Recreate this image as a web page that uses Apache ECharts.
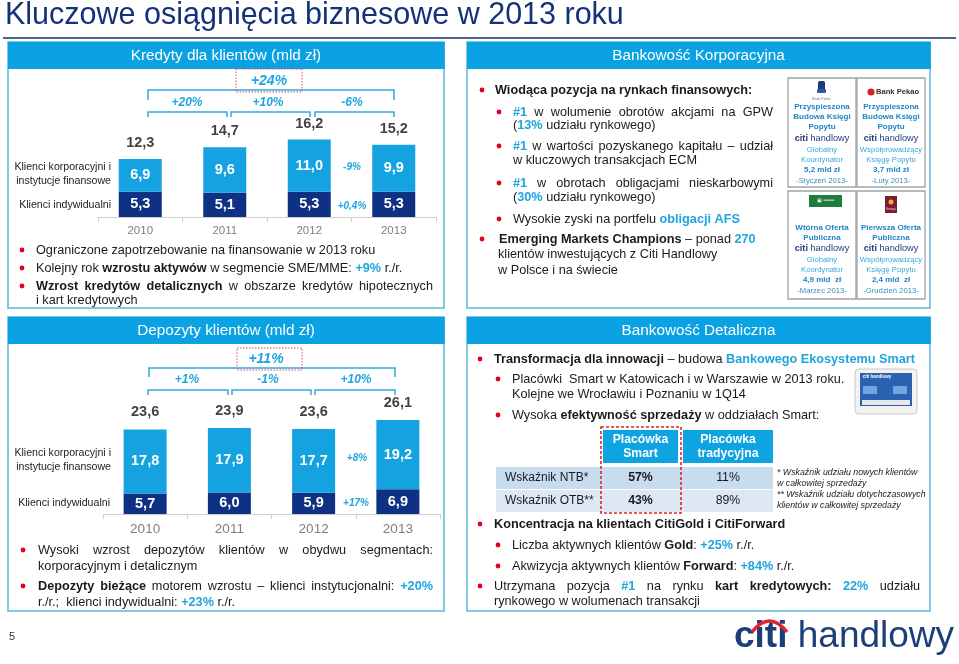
<!DOCTYPE html>
<html><head><meta charset="utf-8">
<script src="https://cdn.jsdelivr.net/npm/echarts@6/dist/echarts.min.js"></script>
<style>html,body{margin:0;padding:0;background:#fff}#c{width:959px;height:664px}</style>
</head><body><div id="c"></div>
<script>
// ---- data ----
const years = ['2010', '2011', '2012', '2013'];
const loansRetail = [5.3, 5.1, 5.3, 5.3];
const loansCorp = [6.9, 9.6, 11.0, 9.9];
const loansTotal = [12.3, 14.7, 16.2, 15.2];
const depRetail = [5.7, 6.0, 5.9, 6.9];
const depCorp = [17.8, 17.9, 17.7, 19.2];
const depTotal = [23.6, 23.9, 23.6, 26.1];
const loansYoY = ['+20%', '+10%', '-6%'];
const loansCum = '+24%';
const loansSeg = ['-9%', '+0,4%'];
const depYoY = ['+1%', '-1%', '+10%'];
const depCum = '+11%';
const depSeg = ['+8%', '+17%'];
const tableHead = [['Placówka', 'Smart'], ['Placówka', 'tradycyjna']];
const tableRows = [['Wskaźnik NTB*', '57%', '11%'], ['Wskaźnik OTB**', '43%', '89%']];

// ---- styles ----
const FONT = "'Liberation Sans', Arial, Helvetica, sans-serif";
const CY = '#1ea5de', TXT = '#1a1a1a', RED = '#e2001a';
const HEAD = '#0aa2e3', BORDER = '#5ab6e2', NAVY = '#0e3183', LBAR = '#14a2e0';
const fmt = v => Number(v).toFixed(1).replace('.', ',');

const mctx = document.createElement('canvas').getContext('2d');
function mw(t, k, size) {
  mctx.font = ((k === 'b' || k === 'c') ? 'bold ' : '') + size + 'px ' + FONT;
  return mctx.measureText(t).width;
}
function richDef(size) {
  return {
    n: {fontSize: size, fontFamily: FONT, fill: TXT},
    b: {fontSize: size, fontFamily: FONT, fill: TXT, fontWeight: 'bold'},
    c: {fontSize: size, fontFamily: FONT, fill: CY, fontWeight: 'bold'},
    cn: {fontSize: size, fontFamily: FONT, fill: CY}
  };
}
function rt(x, y, segs, size, align) {
  return {type: 'text', x: x, y: y, silent: true, z: 10,
    style: {text: segs.map(s => '{' + s[0] + '|' + s[1] + '}').join(''), rich: richDef(size),
      align: align || 'left', verticalAlign: 'middle', fontSize: size, fontFamily: FONT}};
}
function jt(x, y, w, segs, size) {
  let toks = [[]];
  segs.forEach(([k, t]) => t.split(' ').forEach((p, i) => { if (i > 0) toks.push([]); if (p) toks[toks.length - 1].push([k, p]); }));
  toks = toks.filter(t => t.length);
  const ws = toks.map(t => t.reduce((a, [k, p]) => a + mw(p, k, size), 0));
  const tot = ws.reduce((a, b) => a + b, 0);
  const gap = (w - tot) / (toks.length - 1);
  let cx = x; const out = [];
  toks.forEach((t, i) => { out.push(rt(cx, y, t, size)); cx += ws[i] + gap; });
  return out;
}
function txt(x, y, t, o) {
  o = o || {};
  return {type: 'text', x: x, y: y, silent: true, z: 10, style: {text: t, fontFamily: FONT, fontSize: o.size || 12,
    fontWeight: o.bold ? 'bold' : 'normal', fontStyle: o.italic ? 'italic' : 'normal', fill: o.color || TXT,
    align: o.align || 'left', verticalAlign: 'middle'}};
}
const dot = (x, y) => ({type: 'circle', silent: true, z: 10, shape: {cx: x, cy: y, r: 2.4}, style: {fill: RED}});
const pl = (pts, color, lw, dash) => ({type: 'polyline', silent: true, z: 10, shape: {points: pts}, style: {stroke: color, lineWidth: lw, fill: null, lineDash: dash || null}});
const rect = (x, y, w, h, st) => ({type: 'rect', silent: true, z: st.z || 1, shape: {x: x, y: y, width: w, height: h, r: st.r || 0}, style: Object.assign({fill: null}, st)});
const citiRich = (size) => ({a: {fontSize: size, fontWeight: 'bold', fontFamily: FONT, fill: '#1c3f7a'}, b: {fontSize: size, fontFamily: FONT, fill: '#1c3f7a'}});

const G = [];
const BS = 12.7;
// title
G.push(txt(5, 16, 'Kluczowe osiągnięcia biznesowe w 2013 roku', {size: 30.5, color: '#14327a'}));
G.push(pl([[3, 38], [956, 38]], '#4d6486', 2));
// panels
[[8, 42, 436, 266, 'Kredyty dla klientów (mld zł)'], [8, 317, 436, 294, 'Depozyty klientów (mld zł)'],
 [467, 42, 463, 266, 'Bankowość Korporacyjna'], [467, 317, 463, 294, 'Bankowość Detaliczna']].forEach(p => {
  G.push(rect(p[0], p[1], p[2], p[3], {stroke: BORDER, lineWidth: 1.5}));
  G.push(rect(p[0], p[1], p[2] + 0.8, 27, {fill: HEAD}));
  G.push(txt(p[0] + p[2] / 2, p[1] + 13.5, p[4], {size: 15.3, color: '#fff', align: 'center'}));
});

// ---- loans annotations ----
G.push(txt(111, 167, 'Klienci korporacyjni i', {size: 10.6, align: 'right', color: '#222'}));
G.push(txt(111, 181, 'instytucje finansowe', {size: 10.6, align: 'right', color: '#222'}));
G.push(txt(111, 205, 'Klienci indywidualni', {size: 10.6, align: 'right', color: '#222'}));
G.push(pl([[148, 100], [148, 90], [394, 90], [394, 100]], '#35a9dc', 1.5));
[[148, 227], [231, 310], [315, 394]].forEach((b, i) => {
  G.push(pl([[b[0], 117], [b[0], 112], [b[1], 112], [b[1], 117]], '#35a9dc', 1.5));
});
G.push(rect(236, 69, 66, 23, {stroke: '#e04a50', lineWidth: 1, lineDash: [1.5, 1.5], z: 11}));
G.push(txt(269, 81, loansCum, {size: 14, bold: true, italic: true, color: CY, align: 'center'}));
[187, 268, 352].forEach((x, i) => G.push(txt(x, 103, loansYoY[i], {size: 12, bold: true, italic: true, color: CY, align: 'center'})));
G.push(txt(352, 167, loansSeg[0], {size: 10, bold: true, italic: true, color: CY, align: 'center'}));
G.push(txt(352, 206, loansSeg[1], {size: 10, bold: true, italic: true, color: CY, align: 'center'}));
// loans bullets
G.push(dot(22, 250), rt(36, 250, [['n', 'Ograniczone zapotrzebowanie na finansowanie w 2013 roku']], BS));
G.push(dot(22, 268), rt(36, 268, [['n', 'Kolejny rok '], ['b', 'wzrostu aktywów'], ['n', ' w segmencie SME/MME: '], ['c', '+9%'], ['n', ' r./r.']], BS));
G.push(dot(22, 286), ...jt(36, 286, 397, [['b', 'Wzrost kredytów detalicznych'], ['n', ' w obszarze kredytów hipotecznych']], BS));
G.push(rt(36, 300, [['n', 'i kart kredytowych']], BS));

// ---- deposits annotations ----
G.push(txt(111, 453, 'Klienci korporacyjni i', {size: 10.6, align: 'right', color: '#222'}));
G.push(txt(111, 467, 'instytucje finansowe', {size: 10.6, align: 'right', color: '#222'}));
G.push(txt(110, 503, 'Klienci indywidualni', {size: 10.6, align: 'right', color: '#222'}));
G.push(pl([[149, 377], [149, 368], [395, 368], [395, 377]], '#35a9dc', 1.5));
[[148, 228], [232, 311], [315, 395]].forEach(b => {
  G.push(pl([[b[0], 395], [b[0], 390], [b[1], 390], [b[1], 395]], '#35a9dc', 1.5));
});
G.push(rect(237, 348, 65, 22, {stroke: '#e04a50', lineWidth: 1, lineDash: [1.5, 1.5], z: 11}));
G.push(txt(266, 359, depCum, {size: 14, bold: true, italic: true, color: CY, align: 'center'}));
[187, 268, 356].forEach((x, i) => G.push(txt(x, 380, depYoY[i], {size: 12, bold: true, italic: true, color: CY, align: 'center'})));
G.push(txt(357, 458, depSeg[0], {size: 10, bold: true, italic: true, color: CY, align: 'center'}));
G.push(txt(356, 503, depSeg[1], {size: 10, bold: true, italic: true, color: CY, align: 'center'}));
G.push(dot(23, 550), ...jt(38, 550, 395, [['n', 'Wysoki wzrost depozytów klientów w obydwu segmentach:']], BS));
G.push(rt(38, 566, [['n', 'korporacyjnym i detalicznym']], BS));
G.push(dot(23, 586), ...jt(38, 586, 395, [['b', 'Depozyty bieżące'], ['n', ' motorem wzrostu – klienci instytucjonalni: '], ['c', '+20%']], BS));
G.push(rt(38, 602, [['n', 'r./r.;  klienci indywidualni: '], ['c', '+23%'], ['n', ' r./r.']], BS));

// ---- corporate banking ----
G.push(dot(482, 90), rt(495, 90, [['b', 'Wiodąca pozycja na rynkach finansowych:']], BS));
G.push(dot(499, 112), ...jt(513, 112, 260, [['c', '#1'], ['n', ' w wolumenie obrotów akcjami na GPW']], BS));
G.push(rt(513, 125, [['n', '('], ['c', '13%'], ['n', ' udziału rynkowego)']], BS));
G.push(dot(499, 146), ...jt(513, 146, 260, [['c', '#1'], ['n', ' w wartości pozyskanego kapitału – udział']], BS));
G.push(rt(513, 160, [['n', 'w kluczowych transakcjach ECM']], BS));
G.push(dot(499, 183), ...jt(513, 183, 260, [['c', '#1'], ['n', ' w obrotach obligacjami nieskarbowymi']], BS));
G.push(rt(513, 197, [['n', '('], ['c', '30%'], ['n', ' udziału rynkowego)']], BS));
G.push(dot(499, 219), rt(513, 219, [['n', 'Wysokie zyski na portfelu '], ['c', 'obligacji AFS']], BS));
G.push(dot(482, 239), rt(499, 239, [['b', 'Emerging Markets Champions'], ['n', ' – ponad '], ['c', '270']], BS));
G.push(rt(498, 254, [['n', 'klientów inwestujących z Citi Handlowy']], BS));
G.push(rt(498, 270, [['n', 'w Polsce i na świecie']], BS));

// deal boxes
const deals = [
  {x: 788, y: 78, h: 109, title: ['Przyspieszona', 'Budowa Księgi', 'Popytu'], role: ['Globalny', 'Koordynator'], amount: '5,2 mld zł', date: '-Styczeń 2013-'},
  {x: 857, y: 78, h: 109, title: ['Przyspieszona', 'Budowa Księgi', 'Popytu'], role: ['Współprowadzący', 'Księgę Popytu'], amount: '3,7 mld zł', date: '-Luty 2013-'},
  {x: 788, y: 191, h: 108, title: ['Wtórna Oferta', 'Publiczna'], role: ['Globalny', 'Koordynator'], amount: '4,9 mld  zł', date: '-Marzec 2013-'},
  {x: 857, y: 191, h: 108, title: ['Pierwsza Oferta', 'Publiczna'], role: ['Współprowadzący', 'Księgę Popytu'], amount: '2,4 mld  zł', date: '-Grudzień 2013-'}
];
deals.forEach((d, i) => {
  const w = 68, cx = d.x + w / 2;
  G.push(rect(d.x, d.y, w, d.h, {stroke: '#a3a3a3', lineWidth: 1.3}));
  let y = i < 2 ? 107 : 228;
  const step = i < 2 ? 10 : 9.5;
  d.title.forEach(t => { G.push(txt(cx, y, t, {size: 8, bold: true, color: '#2186c4', align: 'center'})); y += step; });
  y += 1;
  G.push({type: 'text', x: cx, y: y, silent: true, z: 10, style: {text: '{a|citi}{b| handlowy}', align: 'center', verticalAlign: 'middle', rich: citiRich(9.2)}});
  y += 12;
  d.role.forEach(t => { G.push(txt(cx, y, t, {size: 7.7, color: '#38a6da', align: 'center'})); y += 10; });
  G.push(txt(cx, y, d.amount, {size: 8, bold: true, color: '#2186c4', align: 'center'})); y += 10.5;
  G.push(txt(cx, y, d.date, {size: 7.7, color: '#3b8dbf', align: 'center'}));
});
// logos
G.push(rect(818, 81, 7, 11, {fill: '#1d3c7c', r: 1.5, z: 10}));
G.push(rect(817, 89, 9, 4, {fill: '#2c57a6', r: 1, z: 10}));
G.push(txt(821.5, 99, 'Bank Polski', {size: 3.5, color: '#777', align: 'center'}));
G.push({type: 'circle', silent: true, z: 10, shape: {cx: 871, cy: 92, r: 3.6}, style: {fill: '#d8232a'}});
G.push(txt(876, 92, 'Bank Pekao', {size: 7.6, color: '#333', bold: true}));
G.push(rect(809, 195, 33, 12, {fill: '#1e7d3d', z: 10}));
G.push(txt(825.5, 201, '▣ ═══', {size: 5, color: '#fff', align: 'center'}));
G.push(rect(885, 196, 12, 17, {fill: '#7b1c3c', z: 10}));
G.push({type: 'circle', silent: true, z: 11, shape: {cx: 891, cy: 202, r: 2.5}, style: {fill: '#e3b323'}});
G.push(txt(891, 209.5, 'Energa', {size: 3, color: '#f3d9a0', align: 'center'}));

// ---- retail banking ----
G.push(dot(480, 359), rt(494, 359, [['b', 'Transformacja dla innowacji'], ['n', ' – budowa '], ['c', 'Bankowego Ekosystemu Smart']], BS));
G.push(dot(498, 379), rt(512, 379, [['n', 'Placówki  Smart w Katowicach i w Warszawie w 2013 roku.']], BS));
G.push(rt(512, 394, [['n', 'Kolejne we Wrocławiu i Poznaniu w 1Q14']], BS));
G.push(dot(498, 415), rt(512, 415, [['n', 'Wysoka '], ['b', 'efektywność sprzedaży'], ['n', ' w oddziałach Smart:']], BS));
// photo
G.push(rect(855, 369, 62, 45, {fill: '#f2f2f2', stroke: '#c9c9c9', lineWidth: 1, r: 4}));
G.push(rect(860, 373, 52, 33, {fill: '#2b62b0', z: 2}));
G.push(rect(863, 386, 14, 8, {fill: '#6fa6e0', z: 3}));
G.push(rect(893, 386, 14, 8, {fill: '#6fa6e0', z: 3}));
G.push(rect(862, 400, 48, 5, {fill: '#e8e8e8', z: 3}));
G.push(txt(877, 377, 'citi handlowy', {size: 4.5, color: '#fff', bold: true, align: 'center'}));
// table
[[603, 75], [683, 90]].forEach((c, i) => {
  G.push(rect(c[0], 430, c[1], 33, {fill: '#0ea3e1'}));
  G.push(txt(c[0] + c[1] / 2, 440, tableHead[i][0], {size: 12.2, bold: true, color: '#fff', align: 'center'}));
  G.push(txt(c[0] + c[1] / 2, 454, tableHead[i][1], {size: 12.2, bold: true, color: '#fff', align: 'center'}));
});
tableRows.forEach((r, i) => {
  const y0 = i === 0 ? 467 : 490;
  G.push(rect(496, y0, 277, 22, {fill: i === 0 ? '#c8dcf0' : '#dde8f4'}));
  G.push(txt(505, y0 + 11, r[0], {size: 12, color: TXT}));
  G.push(txt(640.5, y0 + 11, r[1], {size: 12.3, bold: true, color: TXT, align: 'center'}));
  G.push(txt(728, y0 + 11, r[2], {size: 12.3, color: TXT, align: 'center'}));
});
G.push(rect(601, 427, 80, 86, {stroke: '#d7262d', lineWidth: 1.6, lineDash: [3, 2], z: 12}));
[['* Wskaźnik udziału nowych klientów', 473], ['w całkowitej sprzedaży', 484], ['** Wskaźnik udziału dotychczasowych', 495], ['klientów w całkowitej sprzedaży', 506]]
  .forEach(f => G.push(txt(777, f[1], f[0], {size: 8.8, italic: true, color: '#222'})));
G.push(dot(480, 524), rt(494, 524, [['b', 'Koncentracja na klientach CitiGold i CitiForward']], BS));
G.push(dot(498, 545), rt(512, 545, [['n', 'Liczba aktywnych klientów '], ['b', 'Gold'], ['n', ': '], ['c', '+25%'], ['n', ' r./r.']], BS));
G.push(dot(498, 566), rt(512, 566, [['n', 'Akwizycja aktywnych klientów '], ['b', 'Forward'], ['n', ': '], ['c', '+84%'], ['n', ' r./r.']], BS));
G.push(dot(480, 586), ...jt(494, 586, 426, [['n', 'Utrzymana pozycja '], ['c', '#1'], ['n', ' na rynku '], ['b', 'kart kredytowych:'], ['n', ' '], ['c', '22%'], ['n', ' udziału']], BS));
G.push(rt(494, 601, [['n', 'rynkowego w wolumenach transakcji']], BS));

// footer
G.push(txt(9, 637, '5', {size: 11, color: '#333'}));
G.push({type: 'text', x: 734, y: 637, silent: true, z: 10, style: {text: '{a|citi}{b| handlowy}', verticalAlign: 'middle', rich: citiRich(37)}});
G.push({type: 'bezierCurve', silent: true, z: 11, shape: {x1: 752, y1: 632, cpx1: 769.5, cpy1: 610, x2: 787, y2: 632}, style: {stroke: '#e1232b', lineWidth: 3.5, fill: null}});

// ---- chart ----
const barLabel = {show: true, position: 'inside', color: '#fff', fontWeight: 'bold', fontSize: 14.5, fontFamily: FONT, textBorderWidth: 0, formatter: p => fmt(p.value)};
const totLabel = (d) => ({show: true, position: 'top', distance: d, color: '#111', fontWeight: 'bold', fontSize: 14.5, fontFamily: FONT, formatter: p => fmt(p.value)});
const xa = (gi, fs) => ({gridIndex: gi, type: 'category', data: years,
  axisLine: {lineStyle: {color: '#cfcfcf', width: 1}}, axisTick: {show: true, length: 5, lineStyle: {color: '#cfcfcf'}},
  axisLabel: {color: '#7f7f7f', fontSize: fs, fontFamily: FONT, margin: 8}});
const chart = echarts.init(document.getElementById('c'), null, {renderer: 'canvas'});
chart.setOption({
  animation: false,
  grid: [{left: 98, top: 122, width: 338, height: 95}, {left: 103, top: 406, width: 337, height: 108}],
  xAxis: [xa(0, 11.5), xa(1, 13.5)],
  yAxis: [{gridIndex: 0, type: 'value', min: 0, max: 20, show: false}, {gridIndex: 1, type: 'value', min: 0, max: 30, show: false}],
  series: [
    {type: 'bar', stack: 'l', xAxisIndex: 0, yAxisIndex: 0, data: loansRetail, barWidth: 43, itemStyle: {color: NAVY}, label: barLabel, silent: true},
    {type: 'bar', stack: 'l', xAxisIndex: 0, yAxisIndex: 0, data: loansCorp, barWidth: 43, itemStyle: {color: LBAR}, label: barLabel, silent: true},
    {type: 'scatter', xAxisIndex: 0, yAxisIndex: 0, data: loansTotal, symbolSize: 1, itemStyle: {color: 'rgba(0,0,0,0)'}, label: totLabel(8), silent: true, z: 5},
    {type: 'bar', stack: 'd', xAxisIndex: 1, yAxisIndex: 1, data: depRetail, barWidth: 43, itemStyle: {color: NAVY}, label: barLabel, silent: true},
    {type: 'bar', stack: 'd', xAxisIndex: 1, yAxisIndex: 1, data: depCorp, barWidth: 43, itemStyle: {color: LBAR}, label: barLabel, silent: true},
    {type: 'scatter', xAxisIndex: 1, yAxisIndex: 1, data: depTotal, symbolSize: 1, itemStyle: {color: 'rgba(0,0,0,0)'}, label: totLabel(9), silent: true, z: 5}
  ],
  graphic: {elements: G}
});
</script></body></html>
